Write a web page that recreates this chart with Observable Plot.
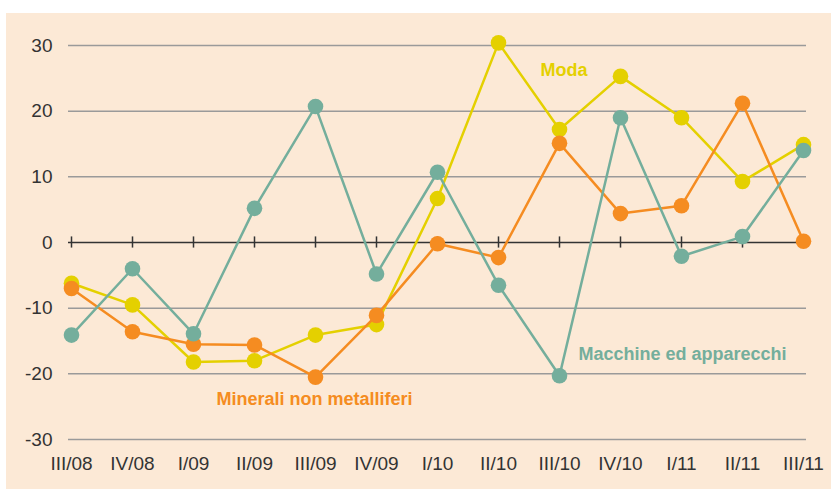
<!DOCTYPE html>
<html>
<head>
<meta charset="utf-8">
<script src="https://cdn.jsdelivr.net/npm/d3@7"></script>
<script src="https://cdn.jsdelivr.net/npm/@observablehq/plot@0.6"></script>
<style>
  html, body { margin: 0; padding: 0; background: #ffffff; }
  #chart { position: absolute; left: 6px; top: 13px; width: 825px; height: 476px; background: #fce9d6; }
  #chart svg { display: block; }
</style>
</head>
<body>
<div id="chart"></div>
<script>
const quarters = ["III/08","IV/08","I/09","II/09","III/09","IV/09","I/10","II/10","III/10","IV/10","I/11","II/11","III/11"];
const moda      = [-6.2, -9.5, -18.2, -18.0, -14.1, -12.5, 6.7, 30.4, 17.2, 25.3, 19.0, 9.3, 14.9];
const minerali  = [-7.0, -13.6, -15.5, -15.6, -20.5, -11.1, -0.2, -2.3, 15.1, 4.4, 5.6, 21.2, 0.2];
const macchine  = [-14.1, -4.0, -13.9, 5.2, 20.7, -4.8, 10.7, -6.5, -20.3, 19.0, -2.1, 0.9, 14.0];
const seriesNames = ["Moda", "Minerali non metalliferi", "Macchine ed apparecchi"];
const seriesColors = ["#e4d000", "#f58c21", "#74ae9c"];
const yTicks = [-30, -20, -10, 0, 10, 20, 30];
const gridTicks = [-30, -20, -10, 10, 20, 30];
// label anchors
const labels = [
  {name: "Moda", q: "II/10", v: 26.3, dx: 42},
  {name: "Minerali non metalliferi", q: "I/09", v: -23.9, dx: 23},
  {name: "Macchine ed apparecchi", q: "III/10", v: -17.0, dx: 19}
];

const valuesBySeries = [moda, minerali, macchine];
const data = seriesNames.flatMap((s, i) => quarters.map((q, j) => ({series: s, q, v: valuesBySeries[i][j]})));

const seriesMarks = seriesNames.flatMap((s, i) => {
  const d = data.filter(r => r.series === s);
  return [
    Plot.line(d, {x: "q", y: "v", stroke: seriesColors[i], strokeWidth: 2.5}),
    Plot.dot(d, {x: "q", y: "v", r: 7.8, fill: seriesColors[i], stroke: "none"})
  ];
});

const labelMarks = labels.map(l => Plot.text([l], {
  x: "q", y: "v", dx: l.dx, text: "name", textAnchor: "start",
  fill: seriesColors[seriesNames.indexOf(l.name)], fontWeight: "bold", fontSize: 18
}));

const chart = Plot.plot({
  width: 825,
  height: 476,
  marginLeft: 62,
  marginRight: 25,
  marginTop: 32,
  marginBottom: 50,
  x: {type: "point", domain: quarters, padding: 0},
  y: {domain: [-30, 30]},
  style: {background: "transparent", fontFamily: "'Liberation Sans', Arial, sans-serif", fontSize: "19px", color: "#333"},
  marks: [
    Plot.ruleY(gridTicks, {stroke: "#9a9a9a", strokeWidth: 1.5}),
    Plot.ruleY([0], {stroke: "#333", strokeWidth: 1.5}),
    Plot.ruleX(quarters, {x: d => d, y1: -0.85, y2: 0.85, stroke: "#333", strokeWidth: 1.5}),
    Plot.axisY({ticks: yTicks, tickSize: 0, tickPadding: 16, label: null, tickFormat: d => d.toString(), fill: "#333"}),
    Plot.axisX({tickSize: 0, tickPadding: 17, label: null, fill: "#333"}),
    ...seriesMarks,
    ...labelMarks
  ]
});
document.getElementById("chart").appendChild(chart);
</script>
</body>
</html>
